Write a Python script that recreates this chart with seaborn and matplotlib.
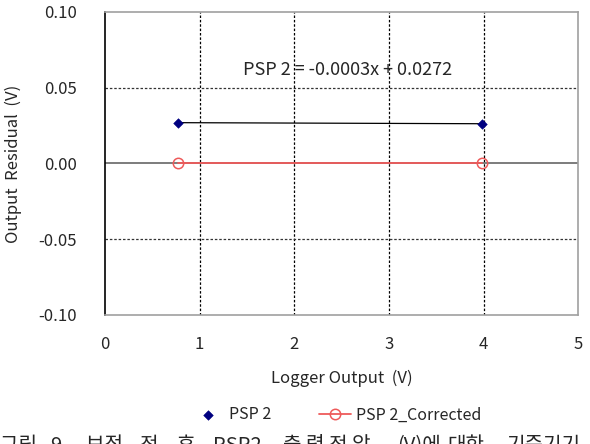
import matplotlib
matplotlib.use("Agg")
import matplotlib.pyplot as plt
import seaborn as sns
import pandas as pd

# data
logger_x = [0.77, 3.98]
psp2_resid = [0.0269, 0.0262]
psp2_corr = [0.0, 0.0]
trend_text = "PSP 2 = -0.0003x + 0.0272"
# caption is cut off at the bottom edge in the source image, words are spread out
caption_words = ["그림", "9.", "보정", "전", "후", "PSP2", "출 력 전 압", "(V)에", "대한", "기준기기"]
caption_px = [0, 50, 86, 140, 177, 213, 283, 397, 447, 507]

sns.set_style("white")
plt.rcParams['font.family'] = ['Noto Sans CJK KR', 'DejaVu Sans']

df = pd.DataFrame({"x": logger_x, "raw": psp2_resid, "corr": psp2_corr})

fig, ax = plt.subplots(figsize=(5.9, 4.44), dpi=100)
fig.subplots_adjust(left=0.178, right=0.98, top=0.973, bottom=0.291)

# grid + zero line
for xv in [1, 2, 3, 4]:
    ax.axvline(xv, color="black", lw=0.9, ls=(0, (2, 1.5)), zorder=1)
for yv in [0.05, -0.05]:
    ax.axhline(yv, color="#333333", lw=0.9, ls=(0, (2, 1.5)), zorder=1)
ax.axhline(0, color="#666666", lw=1.2, zorder=1)

# trend line for raw residuals
sns.lineplot(data=df, x="x", y="raw", color="black", lw=0.9, ax=ax, legend=False, zorder=2)
sns.scatterplot(data=df, x="x", y="raw", marker="D", color="#000080", s=24,
                edgecolor="#000080", ax=ax, label="PSP 2", zorder=3)
sns.lineplot(data=df, x="x", y="corr", color="#ee5a5a", lw=1.3, marker="o",
             markersize=7.5, markerfacecolor="none", markeredgecolor="#ee5a5a",
             markeredgewidth=1.1, ax=ax, label="PSP 2_Corrected", zorder=3)

ax.text(1.46, 0.0617, trend_text, fontsize=13, va="center", ha="left")

ax.set_xlim(0, 5)
ax.set_ylim(-0.10, 0.10)
ax.set_xticks([0, 1, 2, 3, 4, 5])
ax.set_yticks([-0.10, -0.05, 0.0, 0.05, 0.10])
ax.set_yticklabels(["-0.10", "-0.05", "0.00", "0.05", "0.10"])
ax.tick_params(axis="both", length=0, labelsize=12)
ax.tick_params(axis="x", pad=15.5)
ax.tick_params(axis="y", pad=20)

ax.set_xlabel("Logger Output  (V)", fontsize=12, labelpad=12)
ax.set_ylabel("Output  Residual  (V)", fontsize=12, labelpad=12)

for s in ["top", "right", "bottom"]:
    ax.spines[s].set_color("#a0a0a0")
    ax.spines[s].set_linewidth(1.2)
ax.spines["left"].set_color("black")
ax.spines["left"].set_linewidth(1.2)

ax.legend(loc="upper center", bbox_to_anchor=(0.49, -0.255), ncol=2, frameon=False,
          fontsize=11.5, handlelength=2.0, columnspacing=3.0, handletextpad=0.3)

for w, px in zip(caption_words, caption_px):
    fig.text(px / 590, 0.02, w, fontsize=14.5, va="top", ha="left")

fig.savefig("out.png", dpi=100)
